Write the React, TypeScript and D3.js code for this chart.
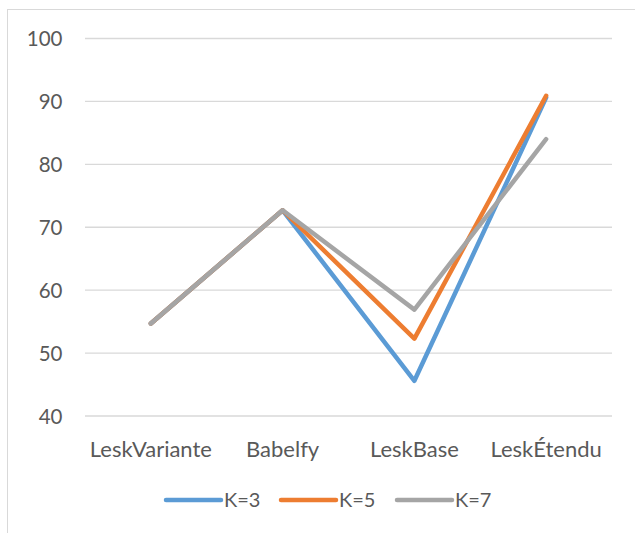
import React, { useEffect, useRef } from 'react';
import * as d3 from 'd3';

const categories = ['LeskVariante', 'Babelfy', 'LeskBase', 'LeskÉtendu'];
const seriesNames = ['K=3', 'K=5', 'K=7'];
const k3 = [54.7, 72.7, 45.6, 90.6];
const k5 = [54.7, 72.7, 52.3, 90.9];
const k7 = [54.7, 72.7, 56.9, 84.0];
const yTicks = [40, 50, 60, 70, 80, 90, 100];
const colors = ['#5B9BD5', '#ED7D31', '#A5A5A5'];

const App: React.FC = () => {
  const svgRef = useRef<SVGSVGElement>(null);
  const width = 635;
  const height = 533;

  useEffect(() => {
    if (!svgRef.current) return;
    const svg = d3.select(svgRef.current);
    svg.selectAll('*').remove();

    const font = 'Lato, "Noto Sans", sans-serif';
    const textColor = '#595959';
    const plot = { left: 85, right: 612, top: 38.5, bottom: 416 };

    // chart area border
    svg.append('rect')
      .attr('x', 7.5).attr('y', 9.5)
      .attr('width', 700).attr('height', 600)
      .attr('fill', 'white')
      .attr('stroke', '#D9D9D9')
      .attr('stroke-width', 1);

    const x = d3.scaleBand<string>()
      .domain(categories)
      .range([plot.left, plot.right]);

    const y = d3.scaleLinear()
      .domain([40, 100])
      .range([plot.bottom, plot.top]);

    // gridlines
    svg.append('g')
      .selectAll('line')
      .data(yTicks)
      .enter()
      .append('line')
      .attr('x1', plot.left).attr('x2', plot.right)
      .attr('y1', d => y(d)).attr('y2', d => y(d))
      .attr('stroke', '#D9D9D9')
      .attr('stroke-width', 1.3);

    // y labels
    svg.append('g')
      .selectAll('text')
      .data(yTicks)
      .enter()
      .append('text')
      .attr('x', 62.5)
      .attr('y', d => y(d) + 7.8)
      .attr('text-anchor', 'end')
      .style('font-family', font)
      .style('font-size', '20.5px')
      .style('fill', textColor)
      .text(d => d);

    // category labels
    svg.append('g')
      .selectAll('text')
      .data(categories)
      .enter()
      .append('text')
      .attr('x', d => (x(d) as number) + x.bandwidth() / 2)
      .attr('y', 457)
      .attr('text-anchor', 'middle')
      .style('font-family', font)
      .style('font-size', '22px')
      .style('fill', textColor)
      .text(d => d);

    const series = [k3, k5, k7];
    const line = d3.line<number>()
      .x((_, i) => (x(categories[i]) as number) + x.bandwidth() / 2)
      .y(d => y(d));

    series.forEach((vals, i) => {
      svg.append('path')
        .datum(vals)
        .attr('fill', 'none')
        .attr('stroke', colors[i])
        .attr('stroke-width', 4.5)
        .attr('stroke-linecap', 'round')
        .attr('stroke-linejoin', 'round')
        .attr('d', line);
    });

    // legend
    const legendX = [166, 281, 397];
    const legendY = 500;
    const lg = svg.append('g');
    seriesNames.forEach((name, i) => {
      lg.append('line')
        .attr('x1', legendX[i]).attr('x2', legendX[i] + 55)
        .attr('y1', legendY).attr('y2', legendY)
        .attr('stroke', colors[i])
        .attr('stroke-width', 4.5)
        .attr('stroke-linecap', 'round');
      lg.append('text')
        .attr('x', legendX[i] + 58)
        .attr('y', legendY + 7)
        .style('font-family', font)
        .style('font-size', '20px')
        .style('fill', textColor)
        .text(name);
    });
  }, []);

  return (
    <svg
      ref={svgRef}
      width={width}
      height={height}
      style={{ position: 'absolute', left: 0, top: 0, background: 'white' }}
    />
  );
};

export default App;
